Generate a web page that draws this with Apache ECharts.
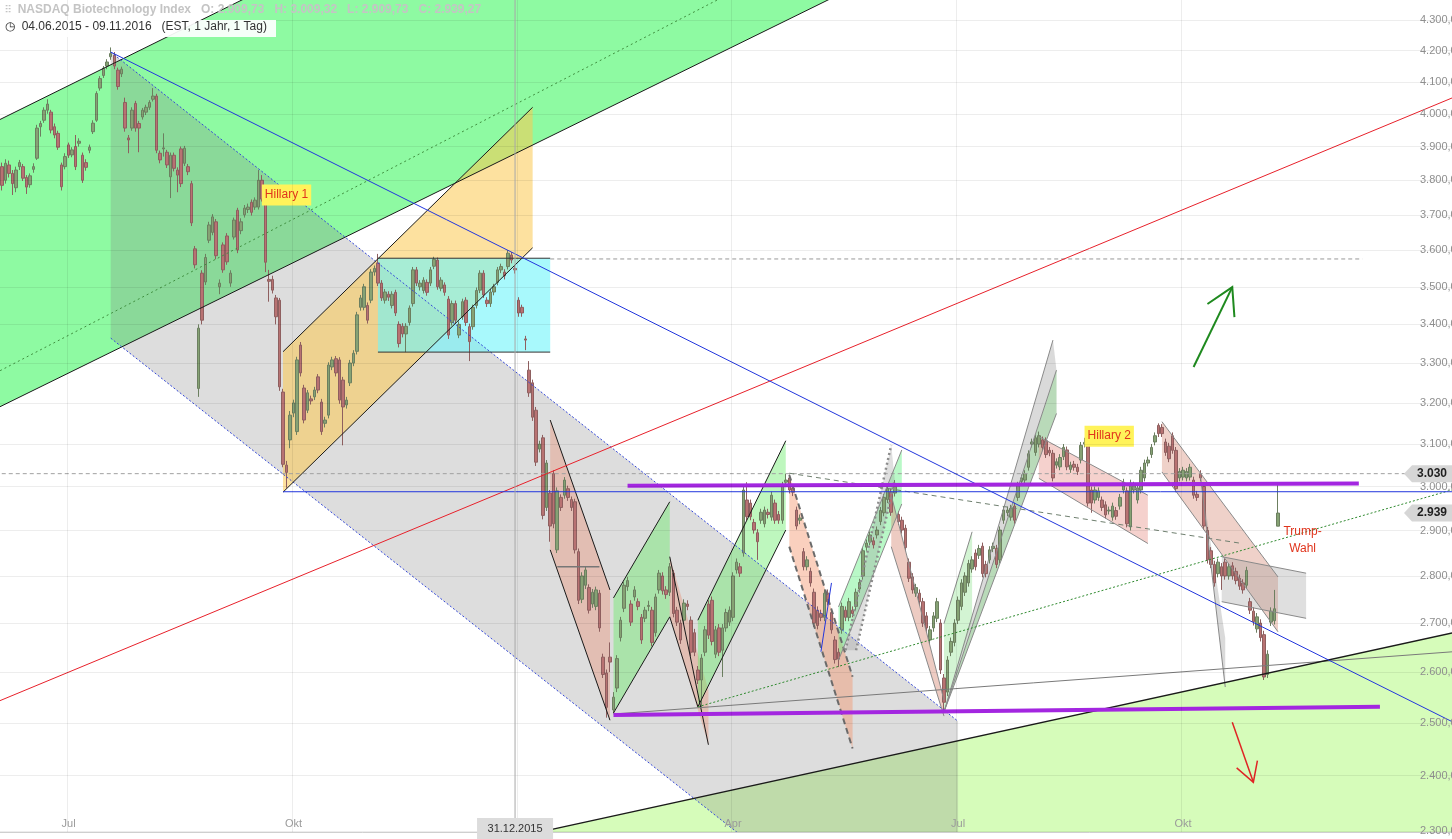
<!DOCTYPE html>
<html><head><meta charset="utf-8">
<script src="https://cdn.jsdelivr.net/npm/echarts@6/dist/echarts.min.js"></script>
<style>html,body{margin:0;padding:0;background:#fff;overflow:hidden}#c{width:1452px;height:839px}</style>
</head><body><div id="c"></div>
<script>
// ---------------- data ----------------
const START_DATE = '2015-06-04';
const TOTAL_SLOTS = 413;           // trading days shown on the axis (data + empty future)
const HOLIDAYS = ['2015-07-03','2015-09-07','2015-11-26','2015-12-25','2016-01-01','2016-01-18','2016-02-15',
  '2016-03-25','2016-05-30','2016-07-04','2016-09-05','2016-11-24','2016-12-26','2017-01-02','2017-01-16'];
const priceTicks = [2300,2400,2500,2600,2700,2800,2900,3000,3100,3200,3300,3400,3500,3600,3700,3800,3900,4000,4100,4200,4300];
const priceMin = 2298, priceMax = 4367;
const crosshairDate = '2015-12-31';
const markedLevel = 3030;

// daily candles [open, close, low, high]
const ohlc = [
[3840,3785,3770,3852],[3800,3850,3790,3862],[3845,3820,3808,3858],[3820,3790,3757,3830],[3778,3830,3765,3840],[3840,3852,3830,3860],
[3840,3806,3798,3848],[3808,3780,3760,3815],[3787,3813,3778,3820],[3832,3840,3822,3850],[3865,3956,3860,3966],[3960,3970,3930,3978],
[3980,4011,3972,4020],[4011,4030,4000,4045],[4005,3950,3940,4012],[3960,3935,3925,3970],[3940,3898,3890,3948],[3845,3781,3770,3852],
[3840,3870,3832,3880],[3905,3874,3866,3912],[3875,3890,3868,3898],[3900,3840,3830,3935],[3910,3916,3900,3925],[3874,3800,3792,3882],
[3852,3838,3828,3862],[3889,3898,3880,3906],[3945,3971,3938,3980],[3980,4063,3975,4070],[4080,4110,4072,4118],[4120,4143,4112,4150],
[4150,4163,4140,4172],[4180,4190,4170,4210],[4185,4150,4140,4195],[4137,4085,4075,4145],[4125,4140,4115,4148],[4035,3956,3945,4050],
[3926,3920,3880,3935],[3956,4011,3948,4020],[4032,3956,3945,4040],[3970,3956,3883,3978],[3990,4011,3982,4018],[4005,4020,3996,4028],
[4020,4035,4012,4042],[4045,4055,4038,4080],[4055,3889,3880,4062],[3880,3860,3850,3888],[3893,3896,3870,3940],[3883,3845,3836,3890],
[3810,3874,3748,3882],[3874,3835,3826,3882],[3830,3815,3765,3838],[3893,3790,3780,3900],[3850,3895,3842,3902],[3840,3825,3815,3848],
[3790,3677,3668,3798],[3604,3560,3550,3612],[3236,3390,3215,3400],[3537,3411,3400,3545],[3513,3580,3505,3590],[3628,3671,3620,3680],
[3650,3694,3642,3702],[3680,3585,3575,3688],[3500,3510,3480,3520],[3615,3546,3538,3622],[3640,3568,3560,3648],[3510,3537,3500,3545],
[3637,3685,3630,3692],[3713,3601,3592,3720],[3655,3680,3645,3690],[3700,3719,3692,3728],[3715,3722,3705,3732],[3736,3707,3698,3744],
[3722,3742,3714,3750],[3722,3800,3715,3830],[3800,3745,3738,3815],[3740,3567,3540,3748],[3520,3515,3460,3546],[3520,3491,3482,3530],
[3470,3420,3400,3478],[3464,3240,3230,3470],[3227,3052,3045,3235],[3050,3033,2997,3060],[3110,3170,3090,3180],[3175,3200,3165,3208],
[3130,3308,3122,3316],[3346,3275,3266,3354],[3237,3158,3150,3245],[3182,3225,3175,3232],[3210,3205,3196,3218],[3215,3232,3207,3240],
[3265,3232,3224,3272],[3202,3130,3122,3210],[3150,3158,3140,3166],[3170,3295,3162,3302],[3290,3308,3282,3316],[3311,3275,3266,3318],
[3308,3207,3198,3315],[3257,3190,3097,3265],[3195,3207,3186,3215],[3250,3300,3242,3308],[3300,3325,3292,3333],[3330,3425,3322,3433],
[3445,3470,3436,3478],[3445,3500,3437,3508],[3450,3411,3402,3458],[3464,3540,3456,3548],[3540,3550,3530,3558],[3565,3510,3502,3590],
[3510,3470,3462,3518],[3464,3486,3455,3494],[3480,3472,3462,3488],[3450,3480,3442,3488],[3485,3430,3422,3492],[3400,3350,3340,3408],
[3395,3375,3366,3403],[3375,3395,3328,3403],[3405,3443,3397,3450],[3455,3546,3447,3554],[3546,3510,3502,3554],[3500,3510,3490,3518],
[3490,3518,3482,3526],[3512,3485,3476,3520],[3510,3546,3502,3554],[3556,3575,3548,3582],[3573,3500,3492,3580],[3496,3518,3488,3526],
[3505,3485,3476,3512],[3467,3372,3362,3475],[3405,3455,3397,3463],[3455,3411,3402,3463],[3372,3400,3364,3408],[3420,3460,3412,3468],
[3464,3405,3396,3472],[3394,3355,3305,3402],[3394,3445,3386,3452],[3450,3490,3442,3498],[3491,3537,3483,3545],[3537,3478,3470,3545],
[3464,3455,3446,3472],[3455,3486,3446,3494],[3486,3500,3477,3508],[3512,3546,3504,3554],[3546,3555,3537,3563],[3540,3530,3520,3548],
[3555,3592,3547,3600],[3587,3573,3564,3595],[3550,3546,3536,3558],[3464,3430,3420,3472],[3445,3430,3420,3452],[3362,3359,3333,3370],
[3282,3225,3215,3305],[3250,3165,3156,3258],[3182,3057,3048,3190],[3088,3100,3080,3108],[3115,2934,2925,3122],[2952,3055,2944,3062],
[2985,2910,2875,2992],[3030,2915,2905,3038],[2857,2990,2850,2998],[2975,2952,2944,2982],[2980,3015,2972,3022],[2995,2975,2967,3002],
[2970,2952,2944,2977],[2965,2857,2849,2972],[2853,2748,2740,2860],[2750,2800,2742,2808],[2780,2813,2772,2820],[2775,2727,2720,2782],
[2740,2765,2732,2772],[2735,2770,2727,2777],[2763,2690,2682,2770],[2630,2595,2588,2637],[2598,2530,2510,2605],[2630,2620,2600,2660],
[2525,2550,2518,2560],[2568,2627,2560,2634],[2670,2706,2662,2713],[2731,2780,2723,2787],[2777,2790,2768,2798],[2740,2702,2694,2748],
[2755,2770,2747,2778],[2745,2735,2727,2752],[2712,2665,2657,2719],[2710,2727,2702,2734],[2735,2737,2725,2747],[2727,2660,2652,2734],
[2680,2755,2672,2762],[2770,2806,2762,2813],[2800,2768,2760,2808],[2770,2760,2751,2778],[2765,2820,2757,2828],[2806,2720,2712,2813],
[2727,2702,2694,2734],[2700,2665,2657,2707],[2706,2742,2698,2750],[2740,2735,2727,2748],[2706,2640,2632,2714],[2680,2640,2632,2688],
[2604,2584,2576,2612],[2584,2628,2530,2636],[2640,2686,2632,2694],[2740,2675,2667,2748],[2748,2662,2654,2756],[2636,2686,2628,2694],
[2690,2640,2632,2698],[2644,2690,2590,2698],[2690,2722,2682,2730],[2702,2727,2694,2735],[2712,2800,2704,2808],[2813,2830,2805,2838],
[2820,2806,2798,2828],[2850,2992,2842,3000],[2969,2931,2923,3010],[2962,2931,2923,2970],[2918,2901,2893,2926],[2895,2875,2835,2903],
[2923,2941,2915,2949],[2915,2946,2907,2954],[2941,2936,2927,2949],[2930,2980,2922,2988],[2962,2923,2915,2970],[2936,2923,2915,2944],
[2923,3003,2915,3011],[3010,3015,3002,3030],[3020,2992,2984,3028],[2996,2987,2978,3004],[2946,2910,2902,2954],[2923,2928,2914,2936],
[2853,2820,2812,2861],[2820,2835,2812,2843],[2810,2785,2777,2818],[2765,2700,2692,2773],[2727,2695,2687,2735],[2720,2712,2704,2728],
[2712,2763,2704,2771],[2763,2745,2737,2771],[2722,2686,2678,2730],[2665,2625,2617,2673],[2640,2626,2610,2648],[2686,2735,2678,2743],
[2727,2712,2704,2735],[2712,2745,2704,2753],[2727,2720,2712,2735],[2735,2765,2727,2773],[2772,2786,2764,2794],[2800,2855,2792,2863],
[2863,2872,2855,2880],[2875,2890,2867,2898],[2877,2868,2860,2885],[2890,2901,2882,2909],[2920,2945,2912,2953],[2940,2975,2932,2983],
[2970,2995,2962,3003],[2987,2941,2933,2995],[2985,3000,2977,3015],[2936,2920,2912,2944],[2923,2901,2893,2931],[2905,2862,2854,2913],
[2830,2795,2787,2838],[2798,2770,2762,2806],[2763,2775,2755,2783],[2763,2745,2737,2771],[2745,2700,2692,2753],[2715,2690,2682,2723],
[2665,2686,2657,2694],[2690,2715,2682,2723],[2710,2745,2702,2753],[2700,2604,2596,2708],[2588,2540,2525,2596],[2560,2624,2552,2632],
[2640,2662,2632,2670],[2660,2700,2652,2708],[2706,2748,2698,2756],[2735,2785,2727,2793],[2765,2800,2757,2808],[2785,2827,2777,2835],
[2815,2835,2807,2843],[2850,2820,2812,2858],[2845,2860,2837,2868],[2865,2805,2797,2873],[2825,2805,2797,2833],[2835,2857,2827,2865],
[2860,2865,2852,2873],[2860,2825,2817,2868],[2835,2901,2827,2909],[2923,2946,2915,2954],[2940,2946,2932,2954],[2930,2950,2922,2958],
[2955,2923,2915,2963],[2975,3003,2967,3011],[3012,3020,3004,3028],[3015,3030,3007,3038],[3045,3077,3037,3085],[3100,3105,3092,3113],
[3080,3115,3072,3123],[3100,3120,3092,3130],[3110,3092,3084,3118],[3108,3075,3067,3116],[3085,3079,3071,3093],[3078,3020,3012,3086],
[3050,3058,3042,3066],[3046,3068,3038,3076],[3070,3092,3062,3100],[3086,3046,3038,3094],[3040,3050,3032,3058],[3052,3045,3037,3060],
[3045,3035,3027,3053],[3062,3097,3054,3105],[3100,3104,3092,3115],[3097,2962,2954,3105],[2992,2962,2940,3000],[2969,2992,2961,3000],
[2975,2990,2967,2998],[2969,2952,2944,2977],[2958,2935,2927,2966],[2944,2946,2936,2954],[2930,2955,2922,2963],[2945,2932,2924,2953],
[2955,2975,2947,2983],[2992,3010,2984,3018],[2990,2915,2907,2998],[2908,3008,2900,3016],[2992,3003,2984,3011],[2969,2997,2961,3005],
[2992,3038,2984,3046],[3020,3055,3012,3063],[3055,3062,3047,3070],[3075,3092,3067,3100],[3105,3120,3097,3128],[3145,3125,3117,3150],
[3140,3125,3117,3148],[3105,3080,3072,3113],[3095,3065,3057,3103],[3120,3085,3077,3128],[3085,2995,2987,3093],[3020,3035,3012,3043],
[3022,3038,3014,3046],[3020,3035,3012,3043],[3022,3045,3014,3053],[3015,2980,2972,3023],[2982,2975,2967,2990],[3030,3020,3012,3038],
[3000,2910,2902,3008],[2900,2835,2827,2908],[2855,2825,2817,2863],[2825,2785,2777,2833],[2805,2830,2797,2838],[2820,2800,2770,2828],
[2830,2800,2792,2838],[2800,2820,2792,2828],[2822,2800,2792,2830],[2810,2790,2782,2818],[2795,2778,2770,2803],[2785,2770,2762,2793],
[2780,2812,2772,2820],[2745,2727,2719,2753],[2725,2703,2695,2733],[2688,2713,2680,2721],[2700,2670,2662,2708],[2676,2590,2584,2684],
[2595,2636,2588,2644],[2702,2725,2694,2733],[2705,2730,2697,2770],[2909.73,2939.27,2909.73,3009.32]
];

// drawn annotations, points as [trading-day index, price]
const greenChannel = [[-3.35,3969],[84.83,4466],[255.5,4491],[-3.35,3180]];
const greenChannelTop = [[-3.35,3969],[84.83,4466]];
const greenChannelBottom = [[-3.35,3180],[255.5,4491]];
const greenChannelDotted = [[-3.35,3269],[209.98,4407]];
const grayChannel = [[31.07,4195],[272.0,2503],[272.0,2008],[31.07,3364]];
const grayChannelTop = [[31.07,4195],[272.0,2503]];
const grayChannelBottom = [[31.07,3364],[272.0,2008]];
const blueTrend = [[31.07,4195],[426.16,2457]];
const blueLevel = [[80.0,2988],[420,2988]];
const orangeBox = [[80.08,3329],[151.39,4020],[151.39,3607],[80.08,2987]];
const orangeTop = [[80.08,3329],[151.39,4020]];
const orangeBottom = [[80.08,2987],[151.39,3607]];
const cyanBox = [[107.0,3578],[156.1,3578],[156.1,3328],[107.0,3328]];
const cyanTop = [[107.0,3578],[156.1,3578]];
const cyanBottom = [[107.0,3328],[156.1,3328]];
const resistanceDashed = [[156.1,3576],[386.9,3576]];
const redTrend = [[-3.35,2536],[426.16,4111]];
const purpleUpper = [[177.56,3002],[386.05,3007]];
const purpleLower = [[173.57,2515],[392.06,2531]];
const grayRising = [[173.57,2517],[426.16,2648]];
const blackSupport = [[141.72,2283],[426.16,2701]];
const lightGreenZone = [[141.72,2283],[426.16,2701],[426.16,2000],[141.72,2000]];
const redFlag1 = [[156.14,3158],[173.21,2770],[173.21,2505],[156.14,2857]];
const redFlag1Top = [[156.14,3158],[173.21,2770]];
const redFlag1Bottom = [[156.14,2857],[173.21,2505]];
const redFlag1Mid = [[157.85,2820],[170.16,2820]];
const greenFlag1 = [[174.14,2753],[190.07,2965],[190.07,2713],[174.14,2519]];
const greenFlag1Top = [[174.14,2753],[190.07,2965]];
const greenFlag1Bottom = [[174.14,2519],[190.07,2713]];
const redFlag2 = [[190.07,2842],[200.97,2564],[200.97,2458],[190.07,2713]];
const redFlag2LineA = [[190.07,2842],[200.97,2458]];
const redFlag2LineB = [[190.07,2713],[198.13,2531]];
const greenFlag2 = [[198.13,2706],[223.07,3108],[223.07,2901],[198.13,2531]];
const greenFlag2Top = [[198.13,2706],[223.07,3108]];
const greenFlag2Bottom = [[198.13,2531],[223.07,2901]];
const salmonFlag = [[224.21,3027],[241.93,2590.5],[241.93,2451],[224.21,2864]];
const salmonTop = [[224.21,3027],[241.93,2590.5]];
const salmonBottom = [[224.21,2864],[241.93,2451]];
const grayDashedTrend = [[224.21,3031],[352.2,2872]];
const blueShort = [[233.02,2641],[235.57,2785]];
const greenFlag3 = [[238.43,2734],[255.98,3086],[255.98,2960],[238.43,2624]];
const greenFlag3Top = [[238.43,2734],[255.98,3086]];
const greenFlag3Bottom = [[238.43,2624],[255.98,2960]];
const grayDottedBand = [[240.13,2644],[253.14,3098],[254.36,3015],[242.98,2644]];
const grayDottedA = [[240.13,2644],[253.14,3098]];
const grayDottedB = [[242.98,2644],[254.36,3015]];
const redFlag3 = [[253.14,2980],[268.08,2544],[268.08,2513],[253.14,2864]];
const redFlag3Top = [[253.14,2980],[268.08,2544]];
const redFlag3Bottom = [[253.14,2864],[268.08,2513]];
const julyFanGray = [[268.08,2521],[299.1,3359],[300.07,3282],[300.07,3174]];
const julyFanGreen = [[268.08,2521],[300.07,3282],[300.07,3174]];
const julyFanA = [[268.08,2521],[299.1,3359]];
const julyFanB = [[268.08,2521],[300.07,3282]];
const julyFanC = [[268.08,2521],[300.07,3174]];
const julySmall = [[267.81,2699],[276.35,2897],[276.35,2706],[268.08,2521]];
const julySmallLine = [[267.81,2699],[276.35,2897]];
const hillary2Box = [[295.12,3118],[326.12,2980],[326.12,2871],[295.12,3019]];
const hillary2Top = [[295.12,3118],[326.12,2980]];
const hillary2Bottom = [[295.12,3019],[326.12,2871]];
const sepOctChannel = [[329.93,3154],[363.1,2798],[363.1,2682],[329.93,3034]];
const sepOctTop = [[329.93,3154],[363.1,2798]];
const sepOctBottom = [[329.93,3034],[363.1,2682]];
const novBox = [[347.0,2842],[371.18,2806],[371.18,2710],[347.0,2745]];
const novBoxTop = [[347.0,2842],[371.18,2806]];
const novBoxBottom = [[347.0,2745],[371.18,2710]];
const octSliver = [[340.54,3022],[348.22,2669],[348.22,2570],[347.65,2570]];
const octSliverLine = [[340.54,3022],[347.65,2570]];
const greenDottedRise = [[197.75,2531],[426.16,3024]];
const levelDashed = [[-0.5,markedLevel],[400,markedLevel]];
const arrowUp = [[339.4,3290],[349.9,3499]];
const arrowDown = [[349.9,2501],[355.6,2388]];
const noteHillary1 = [81.13,3757];
const noteHillary2 = [314.94,3119];
const noteTrump = [370.19,2879];

// ---------------- build ----------------
function tradingDays(start, n, holidays) {
  const out = []; const d = new Date(start + 'T12:00:00Z');
  while (out.length < n) {
    const wd = d.getUTCDay(); const s = d.toISOString().slice(0, 10);
    if (wd !== 0 && wd !== 6 && holidays.indexOf(s) < 0) out.push(s);
    d.setUTCDate(d.getUTCDate() + 1);
  }
  return out;
}
const cats = tradingDays(START_DATE, TOTAL_SLOTS, HOLIDAYS);
const L10 = Math.log10;
function de(v, d) {
  const s = v.toFixed(d).split('.');
  const int = s[0].replace(/\B(?=(\d{3})+(?!\d))/g, '.');
  return d ? int + ',' + s[1] : int;
}
function isQuarterStart(idx) {
  if (idx <= 0) return false;
  const a = cats[idx], b = cats[idx - 1];
  if (a.slice(5, 7) === b.slice(5, 7)) return false;
  const m = +a.slice(5, 7);
  return (m === 1 || m === 4 || m === 7 || m === 10) && a < '2016-12-01';
}
const monthDE = {1:'Jan',4:'Apr',7:'Jul',10:'Okt'};

const FONT = 'Arial, "Liberation Sans", sans-serif';
const last = ohlc[ohlc.length - 1];

const fillLayers = [
  {pts: greenChannel, fill: 'rgb(142,250,162)'},
  {pts: lightGreenZone, fill: 'rgb(214,252,186)'},
  {pts: grayChannel, fill: 'rgba(130,130,130,0.27)'},
  {pts: orangeBox, fill: 'rgba(252,200,80,0.55)'},
  {pts: cyanBox, fill: 'rgba(110,245,250,0.6)'},
  {pts: redFlag1, fill: 'rgba(235,140,110,0.38)'},
  {pts: greenFlag1, fill: 'rgba(100,235,100,0.42)'},
  {pts: redFlag2, fill: 'rgba(235,140,110,0.38)'},
  {pts: greenFlag2, fill: 'rgba(100,235,100,0.42)'},
  {pts: salmonFlag, fill: 'rgba(245,150,110,0.45)'},
  {pts: greenFlag3, fill: 'rgba(100,240,130,0.45)'},
  {pts: grayDottedBand, fill: 'rgba(150,150,150,0.3)'},
  {pts: redFlag3, fill: 'rgba(215,140,120,0.45)'},
  {pts: julyFanGray, fill: 'rgba(150,150,150,0.35)'},
  {pts: julyFanGreen, fill: 'rgba(110,220,110,0.3)'},
  {pts: julySmall, fill: 'rgba(110,220,110,0.3)'},
  {pts: hillary2Box, fill: 'rgba(230,140,130,0.4)'},
  {pts: sepOctChannel, fill: 'rgba(215,140,120,0.4)'},
  {pts: novBox, fill: 'rgba(150,150,150,0.3)'},
  {pts: octSliver, fill: 'rgba(150,150,150,0.35)'}
];
const K = '#1a1a1a', G = '#8a8a8a';
const lineLayers = [
  {pts: greenChannelTop, c: K, w: 1}, {pts: greenChannelBottom, c: K, w: 1},
  {pts: greenChannelDotted, c: '#3f8f3f', w: 1, d: [2, 3]},
  {pts: grayChannelTop, c: '#3347d9', w: 1, d: [2, 2]}, {pts: grayChannelBottom, c: '#3347d9', w: 1, d: [2, 2]},
  {pts: orangeTop, c: K, w: 1}, {pts: orangeBottom, c: K, w: 1},
  {pts: cyanTop, c: '#333', w: 1}, {pts: cyanBottom, c: '#333', w: 1},
  {pts: resistanceDashed, c: '#999', w: 1, d: [4, 3]},
  {pts: levelDashed, c: '#a0a0a0', w: 1, d: [4, 3]},
  {pts: redFlag1Top, c: K, w: 1}, {pts: redFlag1Bottom, c: K, w: 1}, {pts: redFlag1Mid, c: '#777', w: 1.5},
  {pts: greenFlag1Top, c: K, w: 1}, {pts: greenFlag1Bottom, c: K, w: 1},
  {pts: redFlag2LineA, c: K, w: 1}, {pts: redFlag2LineB, c: K, w: 1},
  {pts: greenFlag2Top, c: K, w: 1}, {pts: greenFlag2Bottom, c: K, w: 1},
  {pts: salmonTop, c: '#6a6a6a', w: 2, d: [6, 4]}, {pts: salmonBottom, c: '#6a6a6a', w: 2, d: [6, 4]},
  {pts: grayDashedTrend, c: '#6f7f6f', w: 1, d: [5, 4]},
  {pts: greenFlag3Top, c: G, w: 1}, {pts: greenFlag3Bottom, c: G, w: 1},
  {pts: grayDottedA, c: '#8c8c8c', w: 2.5, d: [2, 3]}, {pts: grayDottedB, c: '#8c8c8c', w: 2.5, d: [2, 3]},
  {pts: redFlag3Top, c: G, w: 1}, {pts: redFlag3Bottom, c: G, w: 1},
  {pts: julyFanA, c: G, w: 1}, {pts: julyFanB, c: G, w: 1}, {pts: julyFanC, c: G, w: 1}, {pts: julySmallLine, c: G, w: 1},
  {pts: hillary2Top, c: G, w: 1}, {pts: hillary2Bottom, c: G, w: 1},
  {pts: sepOctTop, c: G, w: 1}, {pts: sepOctBottom, c: G, w: 1},
  {pts: novBoxTop, c: G, w: 1}, {pts: novBoxBottom, c: G, w: 1}, {pts: octSliverLine, c: G, w: 1},
  {pts: grayRising, c: '#7a7a7a', w: 1},
  {pts: blackSupport, c: K, w: 1.3},
  {pts: greenDottedRise, c: '#2f8a2f', w: 1, d: [2, 2]},
  {pts: redTrend, c: '#e8202a', w: 1},
  {pts: blueTrend, c: '#2236dd', w: 1},
  {pts: blueLevel, c: '#2236dd', w: 1},
  {pts: blueShort, c: '#2236dd', w: 1},
  {pts: purpleUpper, c: '#a326e0', w: 4},
  {pts: purpleLower, c: '#a326e0', w: 4}
];
const arrows = [{pts: arrowUp, c: '#1f8a1f', w: 2, head: 30}, {pts: arrowDown, c: '#e02424', w: 1.5, head: 22}];
const notes = [
  {at: noteHillary1, text: 'Hillary 1', bg: '#fff35a'},
  {at: noteHillary2, text: 'Hillary 2', bg: '#fff35a'},
  {at: noteTrump, text: 'Trump-\nWahl', bg: null}
];

function px(api, p) { return api.coord([p[0], L10(p[1])]); }

function renderFill(params, api) {
  const l = fillLayers[params.dataIndex];
  return {type: 'polygon', shape: {points: l.pts.map(p => px(api, p))}, style: {fill: l.fill}};
}
function renderLine(params, api) {
  const l = lineLayers[params.dataIndex];
  return {type: 'polyline', shape: {points: l.pts.map(p => px(api, p))},
    style: {stroke: l.c, lineWidth: l.w, lineDash: l.d || null, fill: null}};
}
function renderArrow(params, api) {
  const a = arrows[params.dataIndex];
  const t = px(api, a.pts[0]), h = px(api, a.pts[1]);
  const dx = t[0] - h[0], dy = t[1] - h[1], n = Math.hypot(dx, dy), ux = dx / n, uy = dy / n;
  const rot = (ang) => [h[0] + a.head * (ux * Math.cos(ang) - uy * Math.sin(ang)), h[1] + a.head * (ux * Math.sin(ang) + uy * Math.cos(ang))];
  const st = {stroke: a.c, lineWidth: a.w, fill: null};
  return {type: 'group', children: [
    {type: 'polyline', shape: {points: [t, h]}, style: st},
    {type: 'polyline', shape: {points: [rot(Math.PI / 6), h, rot(-Math.PI / 6)]}, style: st}
  ]};
}
function renderNote(params, api) {
  const n = notes[params.dataIndex];
  const p = px(api, n.at);
  return {type: 'text', x: p[0], y: p[1], style: {text: n.text, fill: '#e0341c', fontSize: 12, fontFamily: FONT,
    align: 'center', verticalAlign: 'middle', backgroundColor: n.bg, padding: n.bg ? [2, 3, 2, 3] : 0, lineHeight: 17}};
}
function renderTags(params, api) {
  const cs = params.coordSys, right = cs.x + cs.width, bottom = cs.y + cs.height;
  if (params.dataIndex === 2) {
    const x = api.coord([cats.indexOf(crosshairDate), L10(3000)])[0];
    return {type: 'group', children: [
      {type: 'line', shape: {x1: x, y1: cs.y, x2: x, y2: bottom}, style: {stroke: '#a8a8a8', lineWidth: 1}},
      {type: 'rect', shape: {x: x - 38, y: bottom - 14, width: 76, height: 22}, style: {fill: '#dcdcdc'}},
      {type: 'text', x: x, y: bottom - 3, style: {text: crosshairDate.split('-').reverse().join('.'), fill: '#333',
        fontSize: 11, fontFamily: FONT, align: 'center', verticalAlign: 'middle'}}
    ]};
  }
  const v = params.dataIndex === 0 ? markedLevel : last[1];
  const y = api.coord([0, L10(v)])[1];
  const label = de(Math.floor(v), 0);
  return {type: 'group', children: [
    {type: 'polygon', shape: {points: [[right - 48, y], [right - 40, y - 8.5], [right, y - 8.5], [right, y + 8.5], [right - 40, y + 8.5]]},
      style: {fill: '#d6d6d6'}},
    {type: 'text', x: right - 35, y: y, style: {text: label, fill: '#1e1e1e', fontSize: 12, fontWeight: 'bold',
      fontFamily: FONT, align: 'left', verticalAlign: 'middle'}}
  ]};
}
const dummy = (arr) => arr.map((_, k) => [0, L10(3000), k]);

const option = {
  animation: false,
  backgroundColor: '#ffffff',
  grid: {left: 0, right: 0, top: 0, bottom: 7, containLabel: false, outerBoundsMode: 'none'},
  xAxis: {
    type: 'category', data: cats, boundaryGap: true, z: 10,
    axisLine: {lineStyle: {color: '#cfcfcf'}},
    axisTick: {alignWithLabel: true, interval: (i) => isQuarterStart(i), length: 6, lineStyle: {color: '#222'}},
    axisLabel: {inside: true, margin: 3, interval: (i) => isQuarterStart(i) && cats[i].slice(5, 7) !== '01',
      formatter: (v) => monthDE[+v.slice(5, 7)] || '', color: '#9a9a9a', fontSize: 11, fontFamily: FONT},
    splitLine: {show: true, interval: (i) => isQuarterStart(i), lineStyle: {color: 'rgba(0,0,0,0.07)'}}
  },
  yAxis: {
    type: 'value', position: 'right', min: L10(priceMin), max: L10(priceMax), z: 10,
    axisLine: {show: false},
    axisTick: {show: false, customValues: priceTicks.map(L10)},
    axisLabel: {inside: true, customValues: priceTicks.map(L10), margin: 32, align: 'left',
      formatter: (v) => de(Math.round(Math.pow(10, v)), 2), color: '#8e8e8e', fontSize: 11, fontFamily: FONT},
    splitLine: {show: true, lineStyle: {color: 'rgba(0,0,0,0.07)'}}
  },
  graphic: [
    {type: 'text', left: 5, top: 4, z: 100, style: {text: '\u2AF6\u2AF6  NASDAQ Biotechnology Index   O: ' + de(last[0], 2) + '   H: ' + de(last[3], 2) +
      '   L: ' + de(last[2], 2) + '   C: ' + de(last[1], 2), fill: '#c4c4c4', fontSize: 12, fontWeight: 'bold', fontFamily: FONT}},
    {type: 'rect', left: 0, top: 20, z: 99, shape: {width: 276, height: 17}, style: {fill: 'rgba(255,255,255,0.92)'}},
    {type: 'text', left: 5, top: 21, z: 100, style: {text: '\u25F7  ' + cats[0].split('-').reverse().join('.') + ' - ' +
      cats[ohlc.length - 1].split('-').reverse().join('.') + '   (EST, 1 Jahr, 1 Tag)', fill: '#333', fontSize: 12, fontFamily: FONT}}
  ],
  series: [
    {type: 'custom', name: 'fills', z: 1, clip: true, silent: true, renderItem: renderFill, data: dummy(fillLayers)},
    {type: 'candlestick', name: 'NBI', z: 3, barWidth: 3,
      data: ohlc.map(r => r.map(L10)),
      itemStyle: {color: '#86a274', color0: '#b87272', borderColor: '#6c7f60', borderColor0: '#8e5f5f', borderWidth: 1}},
    {type: 'custom', name: 'lines', z: 4, clip: true, silent: true, renderItem: renderLine, data: dummy(lineLayers)},
    {type: 'custom', name: 'arrows', z: 5, clip: true, silent: true, renderItem: renderArrow, data: dummy(arrows)},
    {type: 'custom', name: 'notes', z: 6, clip: true, silent: true, renderItem: renderNote, data: dummy(notes)},
    {type: 'custom', name: 'tags', z: 12, clip: false, silent: true, renderItem: renderTags, data: [[0, L10(3000), 0], [0, L10(3000), 1], [0, L10(3000), 2]]}
  ]
};
const chart = echarts.init(document.getElementById('c'), null, {renderer: 'canvas'});
chart.setOption(option);
</script>
</body></html>
